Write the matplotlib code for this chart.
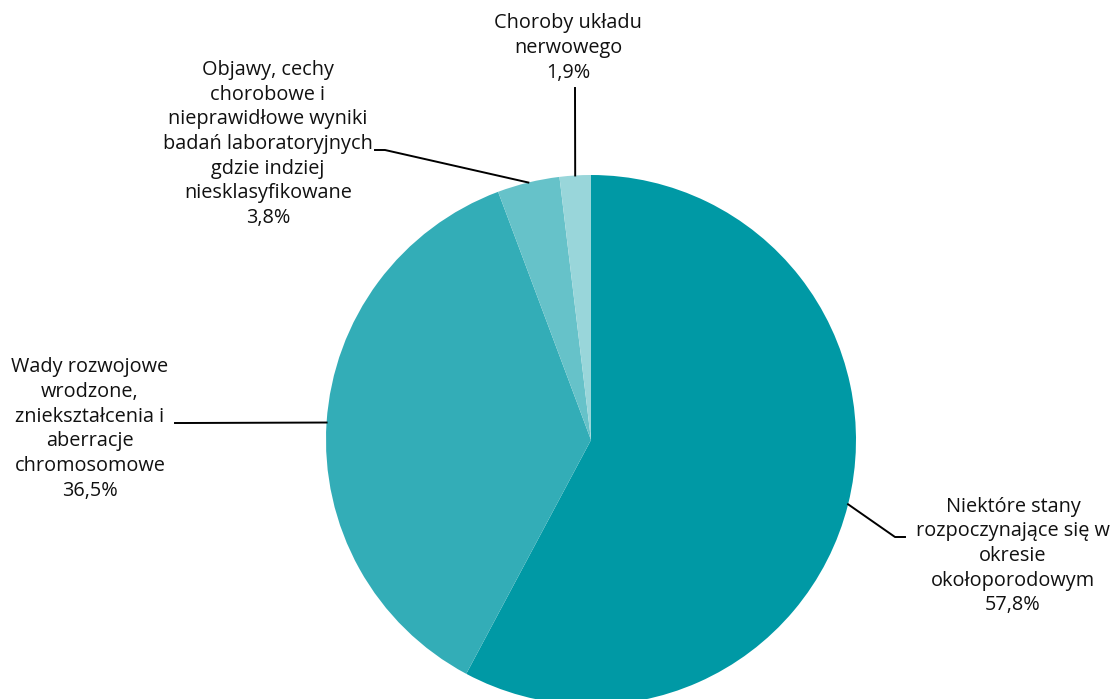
import numpy as np
import matplotlib.pyplot as plt

# dane
labels = [
    "Niektóre stany\nrozpoczynające się w\nokresie\nokołoporodowym",
    "Wady rozwojowe\nwrodzone,\nzniekształcenia i\naberracje\nchromosomowe",
    "Objawy, cechy\nchorobowe i\nnieprawidłowe wyniki\nbadań laboratoryjnych\ngdzie indziej\nniesklasyfikowane",
    "Choroby układu\nnerwowego",
]
shares = [57.8, 36.5, 3.8, 1.9]
colors = ["#0099a5", "#33adb7", "#66c2c9", "#99d6da"]

# uklad w pikselach (szer. 1118 x wys. 699)
W, H = 1118, 699
cx, cy, R = 591, 440, 265
text_pos = [(1013, 556), (90, 429), (268, 144), (568, 48)]
elbows = [[(895, 537), (905, 537)], [(185, 423), (175, 423)],
          [(385, 150), (375, 150)], [(575, 88)]]


def to_data(x, y):
    return (x - cx) / R, (cy - y) / R


plt.rcParams["font.family"] = ["Open Sans", "DejaVu Sans"]
fig = plt.figure(figsize=(W / 100, H / 100), dpi=100)
ax = fig.add_axes([(cx - R) / W, (H - cy - R) / H, 2 * R / W, 2 * R / H])

wedges, _ = ax.pie(shares, colors=colors, startangle=90, counterclock=False,
                   radius=1, wedgeprops=dict(linewidth=0))
for w in wedges:
    w.set_clip_on(False)

for w, lab, v, tp, el in zip(wedges, labels, shares, text_pos, elbows):
    mid = np.deg2rad((w.theta1 + w.theta2) / 2)
    xs = [np.cos(mid)] + [to_data(*p)[0] for p in el]
    ys = [np.sin(mid)] + [to_data(*p)[1] for p in el]
    ax.plot(xs, ys, color="black", lw=1.4, clip_on=False)
    tx, ty = to_data(*tp)
    txt = lab + "\n" + f"{v:.1f}%".replace(".", ",")
    ax.text(tx, ty, txt, ha="center", va="center", fontsize=14.3,
            linespacing=1.31, color="#111111")

ax.set_xlim(-1, 1)
ax.set_ylim(-1, 1)
ax.axis("off")

fig.savefig("out.png", dpi=100)
